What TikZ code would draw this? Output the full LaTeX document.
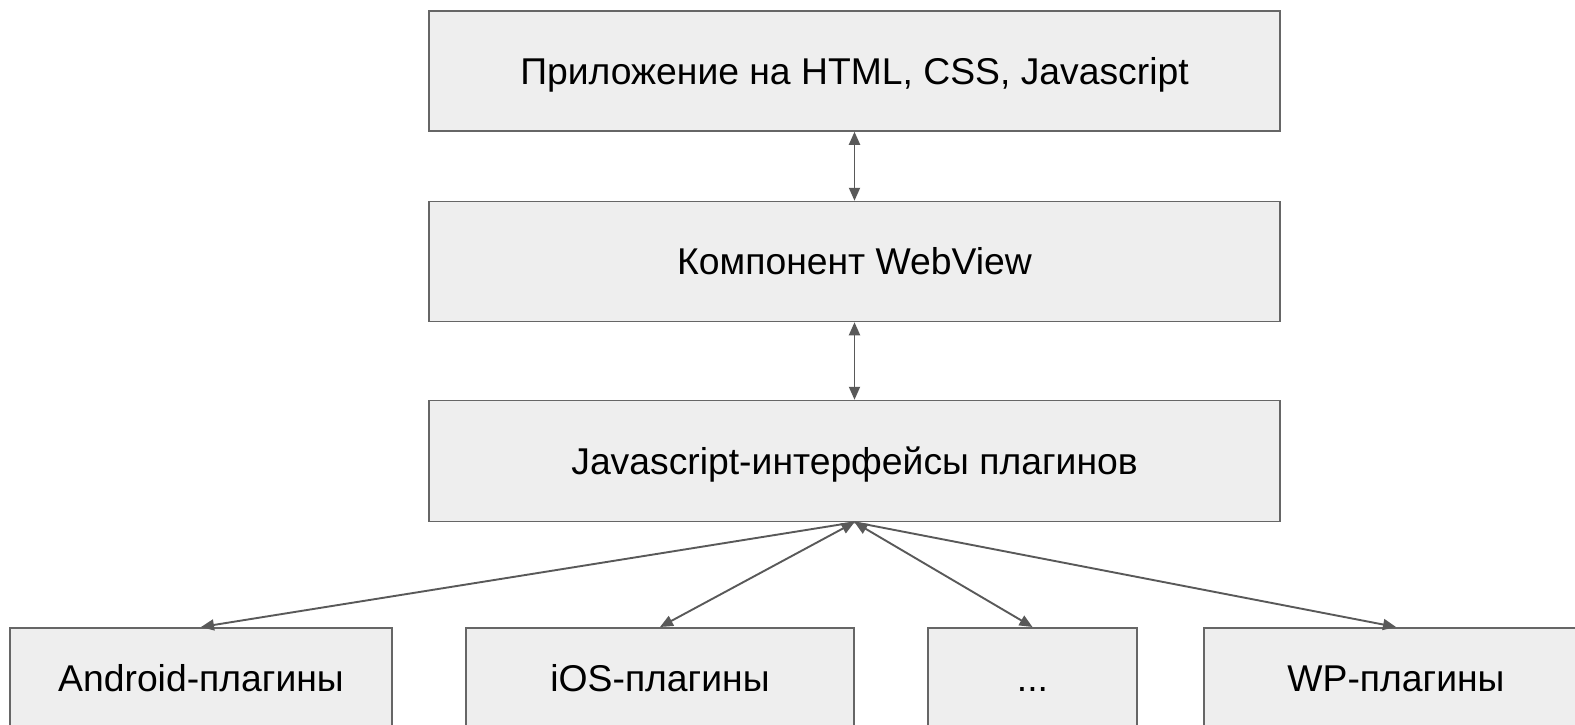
\documentclass[tikz,border=0pt]{standalone}
\usepackage{fontspec}
\setmainfont{Liberation Sans}
\usetikzlibrary{arrows.meta}
\definecolor{boxfill}{HTML}{EEEEEE}
\definecolor{boxline}{HTML}{666666}
\definecolor{arrowc}{HTML}{595959}
\begin{document}
\begin{tikzpicture}[x=1pt,y=-1pt,
  box/.style={draw=boxline,fill=boxfill,line width=1.5pt,inner sep=0pt,
    font=\fontsize{37.3}{44}\selectfont,text=black,text height=26.7pt,text depth=0pt},
  conn/.style={draw=arrowc,line width=1.9pt,
    arrows={Triangle[length=13pt,width=11pt]-Triangle[length=13pt,width=11pt]}},
  oneway/.style={draw=arrowc,line width=1.9pt,
    arrows={-Triangle[length=13pt,width=11pt]}}]
\useasboundingbox (0,0) rectangle (1575,725);
\begin{scope}
\clip (0,0) rectangle (1575,725);
\node[box,minimum width=851pt,minimum height=120pt] (app) at (854.5,71) {Приложение на HTML, CSS, Javascript};
\node[box,minimum width=851pt,minimum height=120pt] (wv) at (854.5,261.5) {Компонент WebView};
\node[box,minimum width=851pt,minimum height=121pt] (js) at (854.5,461) {Javascript-интерфейсы плагинов};
\node[box,minimum width=382pt,minimum height=101pt,anchor=north] (and) at (201,627) {Android-плагины};
\node[box,minimum width=388pt,minimum height=101pt,anchor=north] (ios) at (660,627) {iOS-плагины};
\node[box,minimum width=209pt,minimum height=101pt,anchor=north] (dots) at (1032.5,627) {...};
\node[box,minimum width=384pt,minimum height=101pt,anchor=north] (wp) at (1396,627) {WP-плагины};
\end{scope}
\draw[conn] (app.south) -- (wv.north);
\draw[conn] (wv.south) -- (js.north);
\draw[oneway] (js.south) -- (and.north);
\draw[conn] (js.south) -- (ios.north);
\draw[conn] (js.south) -- (dots.north);
\draw[oneway] (js.south) -- (wp.north);
\end{tikzpicture}
\end{document}
